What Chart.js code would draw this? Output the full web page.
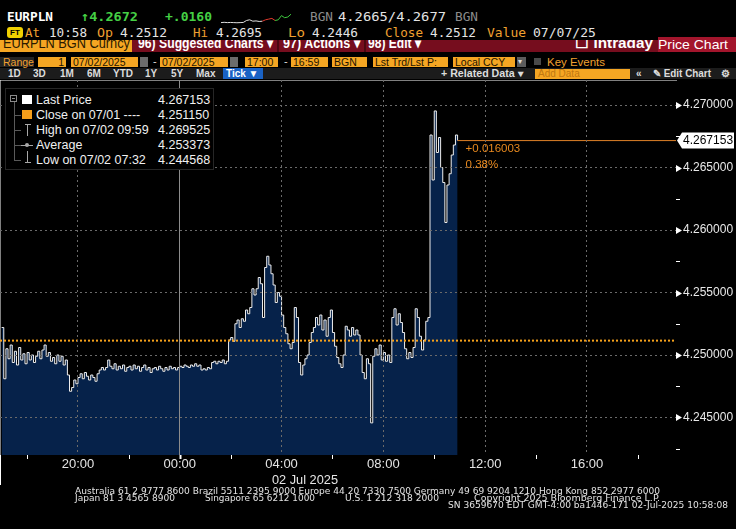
<!DOCTYPE html>
<html>
<head>
<meta charset="utf-8">
<title>EURPLN Intraday Price Chart</title>
<script src="https://cdn.jsdelivr.net/npm/chart.js@4.4.1/dist/chart.umd.min.js"></script>
<style>
body { margin:0; background:#000; width:736px; height:529px; overflow:hidden; position:relative;
  font-family:"Liberation Sans", Arial, sans-serif; color:#e6e6e6; }
.a { position:absolute; white-space:nowrap; }
.mono { font-family:"DejaVu Sans Mono", monospace; }
.o { color:#f0a030; }
.w { color:#e4e4e4; }
.g { color:#45d045; }
.gr { color:#8c8c8c; }
.r1 { top:9px; font-size:13px; line-height:15px; }
.r2 { top:25px; font-size:13px; line-height:15px; }
.r3 { top:-4px; font-size:14px; line-height:14px; font-weight:bold; color:#fff; }
.box { top:57px; height:10px; line-height:10px; font-size:10.5px; background:#f5a623; color:#1e1400; padding:0 2px; box-sizing:border-box; }
.r5 { top:68px; font-size:10px; line-height:11px; font-weight:bold; color:#dcdcdc; }
.lg { font-size:12.5px; line-height:14px; color:#f0f0f0; }
.tree { background:#5a5a5a; }
.sym { background:#a8a8a8; }
.foot { font-family:"DejaVu Sans Condensed", "DejaVu Sans", sans-serif; font-size:8.5px; line-height:9px; color:#e2e2e2; }
</style>
</head>
<body>

<!-- row 1 -->
<div class="a mono r1" style="left:7px;font-weight:bold;color:#fff;" data-w="46">EURPLN</div>
<div class="a mono r1 g" style="left:81px;font-weight:bold;" data-w="57">↑4.2672</div>
<div class="a mono r1 g" style="left:165px;font-weight:bold;" data-w="47">+.0160</div>
<canvas id="spark" width="72" height="16" class="a" style="left:220px;top:9px;"></canvas>
<div class="a mono r1 gr" style="left:310px;" data-w="23">BGN</div>
<div class="a mono r1 w" style="left:338px;" data-w="108">4.2665/4.2677</div>
<div class="a mono r1 gr" style="left:455px;" data-w="23">BGN</div>

<!-- row 2 -->
<div class="a" style="left:7px;top:27px;width:16px;height:11px;background:#f0d000;border-radius:3px;color:#000;font-size:8px;line-height:11px;font-weight:bold;text-align:center;">FT</div>
<div class="a mono r2 o" style="left:25px;" data-w="15">At</div>
<div class="a mono r2 w" style="left:49px;" data-w="38">10:58</div>
<div class="a mono r2 o" style="left:97px;" data-w="16">Op</div>
<div class="a mono r2 w" style="left:120px;" data-w="47">4.2512</div>
<div class="a mono r2 o" style="left:193px;" data-w="15">Hi</div>
<div class="a mono r2 w" style="left:216px;" data-w="46">4.2695</div>
<div class="a mono r2 o" style="left:288px;" data-w="17">Lo</div>
<div class="a mono r2 w" style="left:312px;" data-w="46">4.2446</div>
<div class="a mono r2 o" style="left:385px;" data-w="38">Close</div>
<div class="a mono r2 w" style="left:430px;" data-w="46">4.2512</div>
<div class="a mono r2 o" style="left:487px;" data-w="39">Value</div>
<div class="a mono r2 w" style="left:533px;" data-w="63">07/07/25</div>

<!-- row 3 (partly hidden under row 2) -->
<div class="a" style="left:0;top:40px;width:736px;height:12px;overflow:hidden;background:#760d1e;">
  <div class="a" style="left:0;top:0;width:132px;height:12px;background:#f5a623;"></div>
  <div class="a r3" style="left:3px;color:#2a1a00;font-weight:normal;" data-w="127">EURPLN BGN Curncy</div>
  <div class="a r3" style="left:138px;" data-w="135">96) Suggested Charts ▾</div>
  <div class="a" style="left:277px;top:0;width:2px;height:12px;background:#4a0810;"></div>
  <div class="a r3" style="left:283px;" data-w="77">97) Actions ▾</div>
  <div class="a" style="left:364px;top:0;width:2px;height:12px;background:#4a0810;"></div>
  <div class="a r3" style="left:368px;" data-w="53">98) Edit ▾</div>
  <div class="a r3" style="left:575px;" data-w="78">☐ Intraday</div>
</div>
<div class="a" style="left:658px;top:37px;width:78px;height:15px;background:#a3152c;color:#fff;font-size:13px;line-height:15px;">
  <span class="a" style="left:0;top:0;" data-w="70">Price Chart</span>
</div>

<!-- row 4 -->
<div class="a box" style="left:0;width:34px;background:#242424;color:#f0a030;padding-left:3px;">Range</div>
<div class="a box" style="left:38px;width:28px;text-align:right;">1</div>
<div class="a box" style="left:71px;width:67px;">07/02/2025</div>
<div class="a box" style="left:140px;width:8px;background:#6c6c6c;"></div>
<div class="a" style="left:153px;top:55px;font-size:11px;color:#ddd;">-</div>
<div class="a box" style="left:160px;width:68px;">07/02/2025</div>
<div class="a box" style="left:230px;width:8px;background:#6c6c6c;"></div>
<div class="a box" style="left:245px;width:33px;">17:00</div>
<div class="a" style="left:284px;top:55px;font-size:11px;color:#ddd;">-</div>
<div class="a box" style="left:291px;width:37px;">16:59</div>
<div class="a box" style="left:332px;width:35px;">BGN</div>
<div class="a box" style="left:373px;width:75px;">Lst Trd/Lst P:</div>
<div class="a box" style="left:453px;width:62px;">Local CCY</div>
<div class="a box" style="left:517px;width:9px;background:#5c5c5c;color:#ddd;font-size:8px;padding:0 1px;">▾</div>
<div class="a" style="left:534px;top:58px;width:7px;height:7px;background:#4a4a4a;"></div>
<div class="a o" style="left:547px;top:56px;font-size:10.5px;line-height:12px;" data-w="58">Key Events</div>

<!-- row 5 -->
<div class="a" style="left:0;top:68px;width:736px;height:11px;background:#1c1c1c;"></div>
<div class="a r5" style="left:8px;">1D</div>
<div class="a r5" style="left:33px;">3D</div>
<div class="a r5" style="left:60px;">1M</div>
<div class="a r5" style="left:87px;">6M</div>
<div class="a r5" style="left:113px;">YTD</div>
<div class="a r5" style="left:145px;">1Y</div>
<div class="a r5" style="left:171px;">5Y</div>
<div class="a r5" style="left:196px;">Max</div>
<div class="a r5" style="left:223px;width:40px;height:11px;background:#1a62c4;color:#fff;padding-left:3px;box-sizing:border-box;">Tick ▼</div>
<div class="a r5" style="left:441px;" data-w="82">+ Related Data ▾</div>
<div class="a r5" style="left:535px;top:69px;width:95px;height:10px;background:#f5a623;color:#c07810;padding-left:3px;box-sizing:border-box;font-weight:normal;line-height:10px;">Add Data</div>
<div class="a r5" style="left:636px;">«</div>
<div class="a r5" style="left:653px;" data-w="58">✎ Edit Chart</div>
<div class="a r5" style="left:721px;">⚙</div>

<!-- chart -->
<div class="a" style="left:0;top:80px;width:736px;height:420px;">
  <canvas id="graph-main"></canvas>
</div>

<!-- legend box -->
<div class="a" style="left:5px;top:88px;width:207px;height:80px;background:#000;border:1px solid #262626;">
  <div class="a" style="left:4px;top:6px;width:5px;height:5px;border:1px solid #8a8a8a;"></div>
  <div class="a" style="left:6px;top:9px;width:3px;height:1px;background:#8a8a8a;"></div>
  <div class="a tree" style="left:8px;top:13px;width:1px;height:59px;"></div>
  <div class="a tree" style="left:8px;top:26px;width:7px;height:1px;"></div>
  <div class="a tree" style="left:8px;top:41px;width:7px;height:1px;"></div>
  <div class="a tree" style="left:8px;top:56px;width:7px;height:1px;"></div>
  <div class="a tree" style="left:8px;top:71px;width:7px;height:1px;"></div>
  <div class="a" style="left:16px;top:6px;width:10px;height:9px;background:#fff;"></div>
  <div class="a" style="left:16px;top:21px;width:10px;height:9px;background:#f59e1b;"></div>
  <div class="a sym" style="left:19px;top:35px;width:6px;height:1px;"></div>
  <div class="a sym" style="left:21px;top:35px;width:1px;height:12px;"></div>
  <div class="a sym" style="left:15px;top:56px;width:12px;height:1px;"></div>
  <div class="a sym" style="left:19px;top:54px;width:4px;height:4px;border-radius:2px;"></div>
  <div class="a sym" style="left:21px;top:62px;width:1px;height:12px;"></div>
  <div class="a sym" style="left:19px;top:73px;width:6px;height:1px;"></div>
  <div class="a lg" style="left:30px;top:4px;">Last Price</div>
  <div class="a lg" style="left:30px;top:19px;">Close on 07/01 ----</div>
  <div class="a lg" style="left:30px;top:34px;">High on 07/02 09:59</div>
  <div class="a lg" style="left:30px;top:49px;">Average</div>
  <div class="a lg" style="left:30px;top:64px;">Low on 07/02 07:32</div>
  <div class="a lg" id="v-last" style="left:152px;top:4px;"></div>
  <div class="a lg" id="v-close" style="left:152px;top:19px;"></div>
  <div class="a lg" id="v-high" style="left:152px;top:34px;"></div>
  <div class="a lg" id="v-avg" style="left:152px;top:49px;"></div>
  <div class="a lg" id="v-low" style="left:152px;top:64px;"></div>
</div>

<!-- axis date, left rule, footer -->
<div class="a" style="left:272px;top:473px;font-size:12px;line-height:14px;color:#e6e6e6;" data-w="66">02 Jul 2025</div>
<div class="a" style="left:0;top:455px;width:1px;height:30px;background:#fff;"></div>
<div class="a foot" style="left:75px;top:487px;" data-w="585">Australia 61 2 9777 8600 Brazil 5511 2395 9000 Europe 44 20 7330 7500 Germany 49 69 9204 1210 Hong Kong 852 2977 6000</div>
<div class="a foot" style="left:75px;top:494px;" data-w="100">Japan 81 3 4565 8900</div>
<div class="a foot" style="left:205px;top:494px;" data-w="110">Singapore 65 6212 1000</div>
<div class="a foot" style="left:345px;top:494px;" data-w="94">U.S. 1 212 318 2000</div>
<div class="a foot" style="left:474px;top:494px;" data-w="186">Copyright 2025 Bloomberg Finance L.P.</div>
<div class="a foot" style="left:448px;top:501px;" data-w="280">SN 3659670 EDT  GMT-4:00 ba1446-171 02-Jul-2025 10:58:08</div>

<script>
// EURPLN ticks, one reading every 5 minutes from 17:00 on 07/01 to 10:55 on 07/02
var stepMinutes = 5;
var prices = [
  4.2522, 4.2481, 4.2505, 4.2497, 4.2508, 4.2494, 4.2503, 4.2492, 4.2506, 4.2496, 4.2501, 4.2493,
  4.2502, 4.2496, 4.2500, 4.2494, 4.2499, 4.2503, 4.2497, 4.2504, 4.2508, 4.2499, 4.2502, 4.2495,
  4.2498, 4.2493, 4.2500, 4.2495, 4.2499, 4.2492, 4.2496, 4.2484, 4.2471, 4.2474, 4.2480, 4.2477,
  4.2482, 4.2485, 4.2481, 4.2486, 4.2483, 4.2480, 4.2484, 4.2482, 4.2479, 4.2485, 4.2488, 4.2490,
  4.2488, 4.2490, 4.2496, 4.2491, 4.2489, 4.2493, 4.2488, 4.2491, 4.2489, 4.2492, 4.2487, 4.2490,
  4.2491, 4.2488, 4.2492, 4.2489, 4.2491, 4.2487, 4.2490, 4.2492, 4.2488, 4.2490, 4.2486, 4.2489,
  4.2490, 4.2488, 4.2491, 4.2489, 4.2487, 4.2490, 4.2488, 4.2491, 4.2489, 4.2490, 4.2488, 4.2490,
  4.2491, 4.2490, 4.2492, 4.2491, 4.2490, 4.2492, 4.2491, 4.2493, 4.2491, 4.2492, 4.2488, 4.2489,
  4.2488, 4.2490, 4.2489, 4.2494, 4.2495, 4.2493, 4.2495, 4.2494, 4.2496, 4.2493, 4.2495, 4.2512,
  4.2514, 4.2511, 4.2525, 4.2528, 4.2522, 4.2529, 4.2527, 4.2536, 4.2533, 4.2538, 4.2553, 4.2548,
  4.2553, 4.2562, 4.2557, 4.2530, 4.2570, 4.2579, 4.2572, 4.2565, 4.2556, 4.2542, 4.2550, 4.2547,
  4.2532, 4.2522, 4.2517, 4.2509, 4.2505, 4.2510, 4.2538, 4.2530, 4.2494, 4.2484, 4.2492, 4.2497,
  4.2500, 4.2510, 4.2518, 4.2522, 4.2530, 4.2524, 4.2532, 4.2520, 4.2528, 4.2515, 4.2530, 4.2536,
  4.2518, 4.2507, 4.2498, 4.2493, 4.2490, 4.2500, 4.2523, 4.2520, 4.2515, 4.2522, 4.2516, 4.2520,
  4.2516, 4.2500, 4.2486, 4.2481, 4.2497, 4.2493, 4.24457, 4.2499, 4.2505, 4.2500, 4.2508, 4.2496,
  4.2502, 4.2495, 4.2500, 4.2494, 4.2530, 4.2537, 4.2524, 4.2533, 4.2526, 4.2518, 4.2505, 4.2497,
  4.2502, 4.2498, 4.2506, 4.2537, 4.2530, 4.2515, 4.2504, 4.2512, 4.2527, 4.2530, 4.2676, 4.2640,
  4.269525, 4.2662, 4.2674, 4.2650, 4.2638, 4.2606, 4.2636, 4.2645, 4.2660, 4.2668, 4.2676, 4.267153
];

var closePrev = 4.251150;
var lastPrice = 4.267153;
var highPrice = 4.269525;
var avgPrice = 4.253373;
var lowPrice = 4.244568;

// header sparkline
var sparkValues = [1, 1.2, 1, 1.1, 1, 0.9, 1, 1.1, 2.5, 3, 2, 2.2, 1.8, 2, 3, 3.5, 4, 2.5, 3, 6, 4.5, 5, 7];
var sparkRedFrom = 13;
var sparkGreenFrom = 17;

// axes: x in hours after 17:00 on 07/01
var xMin = -0.065;
var xMax = 26.5;
var xTickHours = [1, 3, 5, 7, 9, 11, 13, 15, 17, 19, 21, 23, 25];
var xTickLabels = ["", "20:00", "", "00:00", "", "04:00", "", "08:00", "", "12:00", "", "16:00", ""];
var midnightHour = 7;
var yMin = 4.2420;
var yMax = 4.2720;
var yTicks = [4.2425, 4.245, 4.2475, 4.25, 4.2525, 4.255, 4.2575, 4.26, 4.2625, 4.265, 4.2675, 4.27];
var yLabelTicks = [4.245, 4.25, 4.255, 4.26, 4.265, 4.27];

var pricePoints = prices.map(function (v, i) {
  return { x: (i * stepMinutes) / 60, y: v };
});
var lastX = pricePoints[pricePoints.length - 1].x;
var change = lastPrice - closePrev;
var changeText = (change >= 0 ? "+" : "") + change.toFixed(6);
var changePctText = ((change / closePrev) * 100).toFixed(2) + "%";

document.getElementById("v-last").innerText = lastPrice.toFixed(6);
document.getElementById("v-close").innerText = closePrev.toFixed(6);
document.getElementById("v-high").innerText = highPrice.toFixed(6);
document.getElementById("v-avg").innerText = avgPrice.toFixed(6);
document.getElementById("v-low").innerText = lowPrice.toFixed(6);

// right axis arrows, time ticks, last price tag and change text
var bbgOverlay = {
  id: "bbgOverlay",
  afterDraw: function (chart) {
    var ctx = chart.ctx;
    var area = chart.chartArea;
    var x = chart.scales.x;
    var y = chart.scales.y;
    ctx.save();
    ctx.fillStyle = "#fff";
    ctx.strokeStyle = "#fff";
    ctx.lineWidth = 1;
    yTicks.forEach(function (v) {
      var py = Math.round(y.getPixelForValue(v));
      ctx.beginPath();
      if (yLabelTicks.indexOf(v) >= 0) {
        ctx.moveTo(area.right, py - 3);
        ctx.lineTo(area.right + 6, py + 0.5);
        ctx.lineTo(area.right, py + 4);
        ctx.closePath();
        ctx.fill();
      } else {
        ctx.moveTo(area.right, py + 0.5);
        ctx.lineTo(area.right + 4, py + 0.5);
        ctx.stroke();
      }
    });
    xTickHours.forEach(function (h, i) {
      if (xTickLabels[i] !== "" && h !== midnightHour) return;
      var px = Math.round(x.getPixelForValue(h)) + 0.5;
      ctx.lineWidth = h === midnightHour ? 2 : 1;
      ctx.beginPath();
      ctx.moveTo(px, area.bottom);
      ctx.lineTo(px, area.bottom + 4);
      ctx.stroke();
    });

    var ly = y.getPixelForValue(lastPrice);
    ctx.fillStyle = "#fff";
    ctx.beginPath();
    ctx.moveTo(area.right + 1, ly);
    ctx.lineTo(area.right + 6, ly - 8);
    ctx.lineTo(chart.width - 2, ly - 8);
    ctx.lineTo(chart.width - 2, ly + 8);
    ctx.lineTo(area.right + 6, ly + 8);
    ctx.closePath();
    ctx.fill();
    ctx.fillStyle = "#000";
    ctx.font = '12px "Liberation Sans"';
    ctx.textBaseline = "middle";
    ctx.textAlign = "left";
    ctx.fillText(lastPrice.toFixed(6), area.right + 7, ly + 0.5);

    var lx = x.getPixelForValue(lastX);
    ctx.fillStyle = "#e8891e";
    ctx.font = '11.5px "Liberation Sans"';
    ctx.fillText(changeText, lx + 8, ly + 8);
    ctx.fillText(changePctText, lx + 8, ly + 24);
    ctx.restore();
  },
};

var ctx = document.getElementById("graph-main").getContext("2d");
var mainChart = new Chart(ctx, {
  type: "line",
  data: {
    datasets: [
      {
        label: "Close on 07/01",
        data: [{ x: xMin, y: closePrev }, { x: xMax, y: closePrev }],
        borderColor: "#f7a21b",
        borderWidth: 2,
        borderDash: [2, 2],
        pointRadius: 0,
        fill: false,
      },
      {
        label: "Last",
        data: [{ x: lastX, y: lastPrice }, { x: xMax, y: lastPrice }],
        borderColor: "#de8128",
        borderWidth: 1,
        pointRadius: 0,
        fill: false,
      },
      {
        label: "Last Price",
        data: pricePoints,
        borderColor: "#eeeeee",
        borderWidth: 1,
        backgroundColor: "#06224a",
        stepped: true,
        fill: "start",
        pointRadius: 0,
      },
    ],
  },
  options: {
    responsive: true,
    maintainAspectRatio: false,
    animation: false,
    layout: { padding: 0 },
    plugins: { legend: { display: false }, tooltip: { enabled: false } },
    scales: {
      x: {
        type: "linear",
        min: xMin,
        max: xMax,
        afterBuildTicks: function (s) {
          s.ticks = xTickHours.map(function (h) { return { value: h }; });
        },
        afterFit: function (s) {
          s.height = 45;
          s.paddingLeft = 0;
          s.paddingRight = 0;
        },
        ticks: {
          color: "#e4e4e4",
          font: { family: "Liberation Sans", size: 13 },
          padding: 2,
          maxRotation: 0,
          autoSkip: false,
          callback: function (v, i) { return xTickLabels[i]; },
        },
        grid: {
          drawTicks: false,
          z: 1,
          color: function (c) {
            if (!c.tick) return "rgba(0,0,0,0)";
            if (c.tick.value === midnightHour) return "#8c8c8c";
            var i = xTickHours.indexOf(c.tick.value);
            return xTickLabels[i] ? "#6a6a6a" : "rgba(0,0,0,0)";
          },
        },
        border: {
          color: "#ffffff",
          width: 1,
          dash: function (c) {
            return c.tick && c.tick.value === midnightHour ? [] : [2, 3];
          },
        },
      },
      y: {
        position: "right",
        min: yMin,
        max: yMax,
        afterBuildTicks: function (s) {
          s.ticks = yTicks.map(function (v) { return { value: v }; });
        },
        afterFit: function (s) {
          s.width = 60;
          s.paddingTop = 0;
          s.paddingBottom = 0;
        },
        ticks: {
          color: "#e8e8e8",
          font: { family: "Liberation Sans", size: 12 },
          padding: 7,
          autoSkip: false,
          callback: function (v) {
            return yLabelTicks.indexOf(v) >= 0 ? v.toFixed(6) : "";
          },
        },
        grid: {
          drawTicks: false,
          z: 1,
          color: function (c) {
            return c.tick && yLabelTicks.indexOf(c.tick.value) >= 0 ? "#6a6a6a" : "rgba(0,0,0,0)";
          },
        },
        border: { color: "#ffffff", width: 1, dash: [2, 3] },
      },
    },
  },
  plugins: [bbgOverlay],
});

var sparkChart = new Chart(document.getElementById("spark"), {
  type: "line",
  data: {
    labels: sparkValues.map(function (v, i) { return i; }),
    datasets: [
      {
        data: sparkValues,
        borderWidth: 1,
        pointRadius: 0,
        segment: {
          borderColor: function (c) {
            if (c.p0DataIndex >= sparkGreenFrom) return "#3ec93e";
            if (c.p0DataIndex >= sparkRedFrom) return "#e23a2e";
            return "#e0e0e0";
          },
        },
      },
    ],
  },
  options: {
    responsive: false,
    animation: false,
    layout: { padding: 1 },
    plugins: { legend: { display: false }, tooltip: { enabled: false } },
    scales: { x: { display: false }, y: { display: false } },
  },
});

// squeeze header and footer strings to the widths they take in the terminal font
function fitText() {
  document.querySelectorAll("[data-w]").forEach(function (el) {
    var w = el.getBoundingClientRect().width;
    if (w > 0) {
      el.style.transformOrigin = "0 0";
      el.style.transform = "scaleX(" + el.dataset.w / w + ")";
    }
  });
}
fitText();
</script>
</body>
</html>
